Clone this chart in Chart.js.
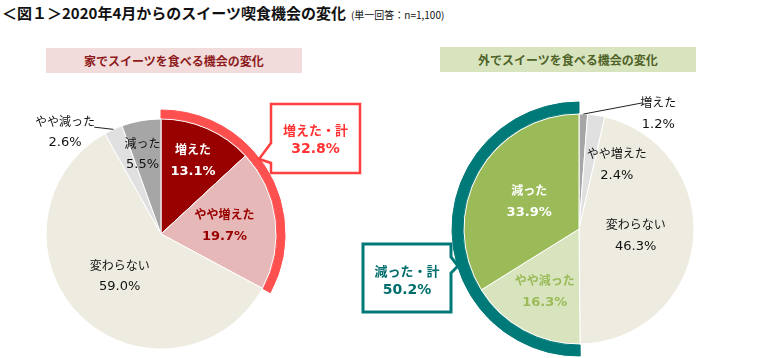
<!DOCTYPE html>
<html lang="ja">
<head>
<meta charset="utf-8">
<script src="https://cdn.jsdelivr.net/npm/chart.js@4.4.0/dist/chart.umd.min.js"></script>
<style>
  html, body { margin: 0; padding: 0; width: 760px; height: 358px; overflow: hidden; background: #fff; }
  body { position: relative; font-family: "Noto Sans CJK JP", sans-serif; }
  .title { position: absolute; left: 2px; top: 3px; font-size: 15px; font-weight: bold; color: #111; white-space: nowrap; line-height: 20px; }
  .title span { font-size: 10px; font-weight: normal; margin-left: 5px; }
  .head { position: absolute; width: 256px; height: 25px; line-height: 25px; text-align: center; font-size: 12px; font-weight: bold; }
  #headHome { left: 46px; top: 48px; background: #F2DCDB; color: #8E1B1B; }
  #headOut { left: 440px; top: 47px; background: #D7E4BD; color: #4F6228; }
  canvas { position: absolute; top: 0; }
  #pieHome { left: 0; }
  #pieOut { left: 330px; }
</style>
</head>
<body>
<div class="title">＜図１＞2020年4月からのスイーツ喫食機会の変化<span>(単一回答：n=1,100)</span></div>
<div class="head" id="headHome">家でスイーツを食べる機会の変化</div>
<div class="head" id="headOut">外でスイーツを食べる機会の変化</div>
<canvas id="pieHome" width="380" height="358"></canvas>
<canvas id="pieOut" width="430" height="358"></canvas>
<script>
// data (%)
const sliceLabels = ["増えた", "やや増えた", "変わらない", "やや減った", "減った"];
const homeValues = [13.1, 19.7, 59.0, 2.6, 5.5];
const outValues = [1.2, 2.4, 46.3, 16.3, 33.9];
const homeTotalLabel = "増えた・計";
const homeTotalValue = 32.8;
const outTotalLabel = "減った・計";
const outTotalValue = 50.2;

const homeColors = ["#990000", "#E6B9B8", "#EEECE1", "#E0E0E0", "#A6A6A6"];
const outColors = ["#A6A6A6", "#E0E0E0", "#EEECE1", "#D7E4BD", "#9BBB59"];
const homeBandColors = ["#FF5050", "#FF5050", "transparent", "transparent", "transparent"];
const outBandColors = ["transparent", "transparent", "transparent", "#007A78", "#007A78"];

// where each slice label sits: r from centre, at = degrees clockwise from top (default: slice middle)
const homePlace = [
    { r: 80, color: "#fff", bold: true },
    { r: 64, color: "#990000", bold: true },
    { r: 59 },
    { r: 140, at: 316.7, lead: [126, 328] },
    { r: 82, at: 347 },
];
const outPlace = [
    { r: 140, at: 34.5, lead: [141, 26.6] },
    { r: 75, at: 30.3 },
    { r: 57 },
    { r: 71, color: "#9BBB59", bold: true },
    { r: 57, color: "#fff", bold: true },
];

const nameFont = (b) => (b ? "bold " : "") + '12px "Noto Sans CJK JP", sans-serif';
const pctFont = (b) => (b ? "bold " : "") + '13px "DejaVu Sans", sans-serif';

// labels + callout, drawn after the slices
function sliceText(place, callout) {
    return {
        id: "sliceText",
        afterDatasetsDraw(chart) {
            const ctx = chart.ctx;
            const meta = chart.getDatasetMeta(2);
            const values = chart.data.datasets[2].data;
            ctx.save();
            ctx.textAlign = "center";
            ctx.textBaseline = "middle";
            meta.data.forEach((arc, i) => {
                const p = arc.getProps(["x", "y", "startAngle", "endAngle", "outerRadius"], true);
                const mid = (p.startAngle + p.endAngle) / 2;
                const pl = place[i];
                const a = pl.at !== undefined ? ((pl.at - 90) * Math.PI) / 180 : mid;
                const tx = p.x + pl.r * Math.cos(a);
                const ty = p.y + pl.r * Math.sin(a);
                if (pl.lead) {
                    const la = ((pl.lead[1] - 90) * Math.PI) / 180;
                    ctx.beginPath();
                    ctx.moveTo(p.x + p.outerRadius * Math.cos(mid), p.y + p.outerRadius * Math.sin(mid));
                    ctx.lineTo(p.x + pl.lead[0] * Math.cos(la), p.y + pl.lead[0] * Math.sin(la));
                    ctx.strokeStyle = "#222";
                    ctx.lineWidth = 1;
                    ctx.stroke();
                }
                ctx.fillStyle = pl.color || "#111";
                ctx.font = nameFont(pl.bold);
                ctx.fillText(chart.data.labels[i], tx, ty - 11);
                ctx.font = pctFont(pl.bold);
                ctx.fillText(values[i].toFixed(1) + "%", tx, ty + 11);
            });

            const c = callout;
            ctx.beginPath();
            c.shape.forEach((pt, k) => (k ? ctx.lineTo(pt[0], pt[1]) : ctx.moveTo(pt[0], pt[1])));
            ctx.closePath();
            ctx.fillStyle = "#fff";
            ctx.fill();
            ctx.lineWidth = c.lineWidth;
            ctx.strokeStyle = c.line;
            ctx.lineJoin = "miter";
            ctx.stroke();
            ctx.fillStyle = c.text;
            ctx.font = 'bold 13px "Noto Sans CJK JP", sans-serif';
            ctx.fillText(c.label, c.tx, c.ty - 9);
            ctx.font = 'bold 14px "DejaVu Sans", sans-serif';
            ctx.fillText(c.value.toFixed(1) + "%", c.tx, c.ty + 10);
            ctx.restore();
        },
    };
}

function makePie(el, values, colors, bandColors, bandWidth, padding, place, callout) {
    return new Chart(el, {
        type: "doughnut",
        data: {
            labels: sliceLabels,
            datasets: [
                {
                    data: values,
                    backgroundColor: bandColors,
                    borderColor: bandColors,
                    borderWidth: 1,
                    weight: bandWidth,
                },
                {
                    data: [1],
                    backgroundColor: "transparent",
                    borderWidth: 0,
                    weight: 1,
                },
                {
                    data: values,
                    backgroundColor: colors,
                    borderColor: "#fff",
                    borderWidth: 1,
                    weight: 115,
                },
            ],
        },
        options: {
            responsive: false,
            animation: false,
            events: [],
            cutout: 0,
            radius: 116 + bandWidth,
            hoverOffset: 0,
            layout: { padding: padding },
            plugins: {
                legend: { display: false },
                tooltip: { enabled: false },
            },
        },
        plugins: [sliceText(place, callout)],
    });
}

makePie(
    document.getElementById("pieHome"),
    homeValues, homeColors, homeBandColors, 8,
    { left: 0, right: 58, top: 110, bottom: 0 },
    homePlace,
    {
        shape: [[271, 104], [360, 104], [360, 173], [271, 173], [271, 163], [259, 159], [271, 143]],
        line: "#FF4040", lineWidth: 2.5, text: "#FF3333",
        label: homeTotalLabel, value: homeTotalValue, tx: 315.5, ty: 139,
    }
);

makePie(
    document.getElementById("pieOut"),
    outValues, outColors, outBandColors, 11,
    { left: 68, right: 0, top: 100, bottom: 0 },
    outPlace,
    {
        shape: [[33, 244], [121, 244], [121, 257], [128, 266], [121, 273], [121, 312], [33, 312]],
        line: "#007A78", lineWidth: 3, text: "#006E6C",
        label: outTotalLabel, value: outTotalValue, tx: 77, ty: 280,
    }
);
</script>
</body>
</html>
